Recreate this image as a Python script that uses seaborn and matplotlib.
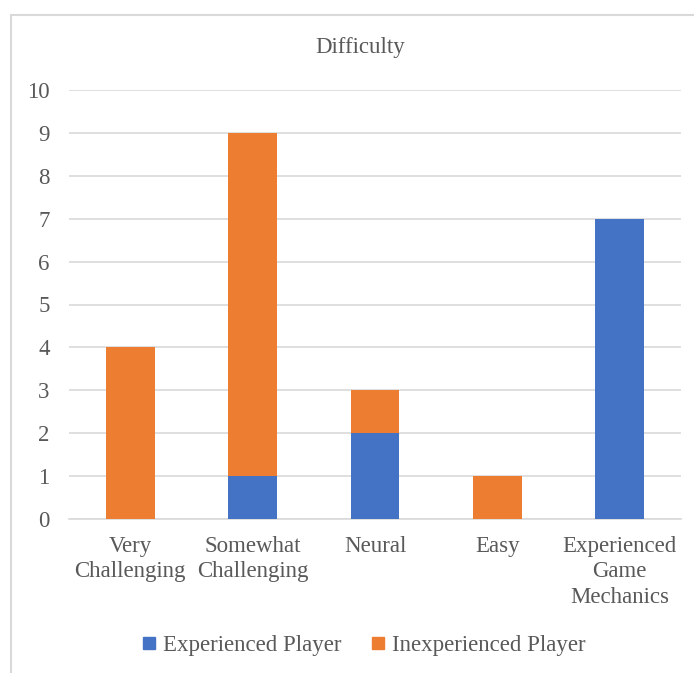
import matplotlib
matplotlib.use("Agg")
import matplotlib.pyplot as plt
from matplotlib.patches import Rectangle
from matplotlib.lines import Line2D
import seaborn as sns
import pandas as pd

categories = ["Very\nChallenging", "Somewhat\nChallenging", "Neural", "Easy",
              "Experienced\nGame\nMechanics"]
experienced = [0, 1, 2, 0, 7]
inexperienced = [4, 8, 1, 1, 0]
y_ticks = list(range(0, 11))
title = "Difficulty"
series_names = ["Experienced Player", "Inexperienced Player"]

BLUE = "#4472C4"
ORANGE = "#ED7D31"
GRID = "#D9D9D9"
TEXT = "#595959"
FS = 16.5

sns.set_theme(style="white")
plt.rcParams["font.family"] = ["Liberation Serif", "DejaVu Serif"]

df = pd.DataFrame({
    "category": categories,
    "experienced": experienced,
    "total": [a + b for a, b in zip(experienced, inexperienced)],
})

fig = plt.figure(figsize=(6.94, 6.73), dpi=100)
ax = fig.add_axes([69 / 694, 1 - 519 / 673, (681 - 69) / 694, (519 - 90) / 673])

# Stacked bars: full stack in orange, experienced share drawn over it in blue
sns.barplot(data=df, x="category", y="total", color=ORANGE, width=0.4,
            saturation=1, linewidth=0, ax=ax, zorder=3)
sns.barplot(data=df, x="category", y="experienced", color=BLUE, width=0.4,
            saturation=1, linewidth=0, ax=ax, zorder=4)

ax.set_ylim(0, 10)
ax.set_xlim(-0.5, len(categories) - 0.5)
ax.set_yticks(y_ticks)
ax.set_xlabel("")
ax.set_ylabel("")
ax.yaxis.grid(True, color=GRID, linewidth=1.2, zorder=0)
ax.set_axisbelow(True)
for s in ["top", "right", "left"]:
    ax.spines[s].set_visible(False)
ax.spines["bottom"].set_color(GRID)
ax.spines["bottom"].set_linewidth(1.2)
ax.tick_params(axis="y", length=0, pad=14, labelsize=FS, labelcolor=TEXT)
ax.tick_params(axis="x", length=0, pad=12, labelsize=FS, labelcolor=TEXT)
for lbl in ax.get_xticklabels():
    lbl.set_linespacing(1.3)
    lbl.set_horizontalalignment("center")

fig.text(360 / 694, 1 - 47 / 673, title, ha="center", va="center",
         fontsize=FS, color=TEXT)

handles = [Line2D([], [], marker="s", linestyle="none", markersize=8.5,
                  markerfacecolor=c, markeredgecolor=c) for c in (BLUE, ORANGE)]
fig.legend(handles, series_names, loc="center", bbox_to_anchor=(364 / 694, 1 - 645 / 673),
           ncol=2, frameon=False, fontsize=FS, labelcolor=TEXT,
           handletextpad=0.3, columnspacing=1.3, handlelength=0.6)

# Chart area border
fig.patches.append(Rectangle((11 / 694, -0.2), 1.2, 1.2 - 15 / 673,
                             transform=fig.transFigure, fill=False,
                             edgecolor=GRID, linewidth=1.5))

fig.savefig("out.png", dpi=100, facecolor="white")
